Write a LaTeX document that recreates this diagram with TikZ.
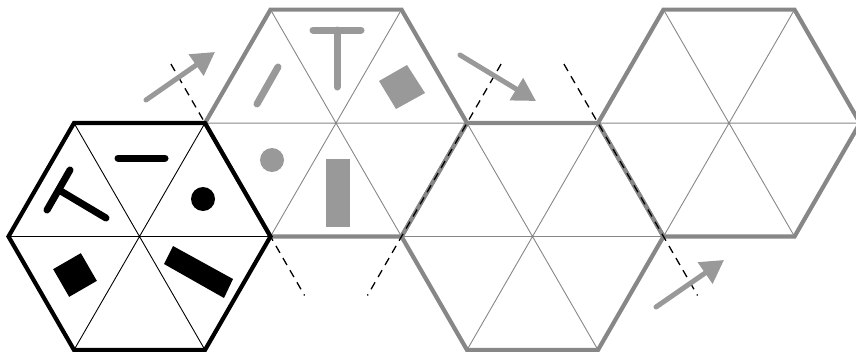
\documentclass[tikz,border=0pt]{standalone}
\usetikzlibrary{arrows.meta,calc}
\definecolor{hexgray}{gray}{0.53}
\definecolor{shapegray}{gray}{0.6}
\tikzset{
  thinline/.style={line width=0.9pt},
  hexoutline/.style={line width=4.2pt, line join=miter},
  foldline/.style={black, line width=1.3pt, dash pattern=on 8pt off 6pt},
  movearrow/.style={draw=shapegray, line width=5pt, line cap=round,
    -{Triangle[length=23pt,width=25pt]}},
  barshape/.style={line width=7pt, line cap=round},
}
\newcommand{\hexcell}[3]{% center name, x, y
  \coordinate (#1) at (#2,#3);
  \foreach \k in {0,...,5}{
    \coordinate (#1v\k) at ($(#1)+(\k*60:131)$);
  }
}
\begin{document}
\begin{tikzpicture}[x=1pt,y=-1pt]
\useasboundingbox (0,0) rectangle (856,351);
\clip (0,0) rectangle (856,351);
\hexcell{ha}{139.5}{236.5}
\hexcell{hb}{336}{123.05}
\hexcell{hc}{532.5}{236.5}
\hexcell{hd}{729}{123.05}
% gray hexes
\foreach \h in {hb,hc,hd}{
  \draw[hexgray, thinline] (\h v0) -- (\h v3) (\h v1) -- (\h v4) (\h v2) -- (\h v5);
  \draw[hexgray, hexoutline] (\h v0) -- (\h v1) -- (\h v2) -- (\h v3) -- (\h v4) -- (\h v5) -- cycle;
}
% black hex
\draw[black, thinline] (hav0) -- (hav3) (hav1) -- (hav4) (hav2) -- (hav5);
\draw[black, hexoutline] (hav0) -- (hav1) -- (hav2) -- (hav3) -- (hav4) -- (hav5) -- cycle;
% fold lines
\draw[foldline] ($(hav5)!-0.52!(hav0)$) -- ($(hav0)!-0.52!(hav5)$);
\draw[foldline] ($(hbv0)!-0.52!(hbv1)$) -- ($(hbv1)!-0.52!(hbv0)$);
\draw[foldline] ($(hcv5)!-0.52!(hcv0)$) -- ($(hcv0)!-0.52!(hcv5)$);
% black shapes
\draw[black, barshape] (118,158) -- (165,158);
\draw[black, barshape] (47,210) -- (70,170) (59,190) -- (106,218);
\fill[black] (203,199) circle (12);
\fill[black] (53.15,269.15) -- (80.85,253.15) -- (96.85,280.85) -- (69.15,296.85) -- cycle;
\fill[black] (164,264) -- (173,246) -- (233,279) -- (224,298) -- cycle;
% gray shapes
\draw[shapegray, barshape] (313,30) -- (361,30) (337,30) -- (337,87);
\draw[shapegray, barshape] (257,104) -- (278,67);
\fill[shapegray] (379,81) -- (407,65) -- (425,93) -- (396,109) -- cycle;
\fill[shapegray] (272,160) circle (12);
\fill[shapegray] (326,159) rectangle (350,227);
% arrows
\coordinate (a1s) at (146,100); \coordinate (a1e) at (215,52);
\coordinate (a2s) at (460,55);  \coordinate (a2e) at (536,101);
\coordinate (a3s) at (656,307); \coordinate (a3e) at (724,260);
\draw[movearrow] (a1s) -- (a1e);
\draw[movearrow] (a2s) -- (a2e);
\draw[movearrow] (a3s) -- (a3e);
\end{tikzpicture}
\end{document}
